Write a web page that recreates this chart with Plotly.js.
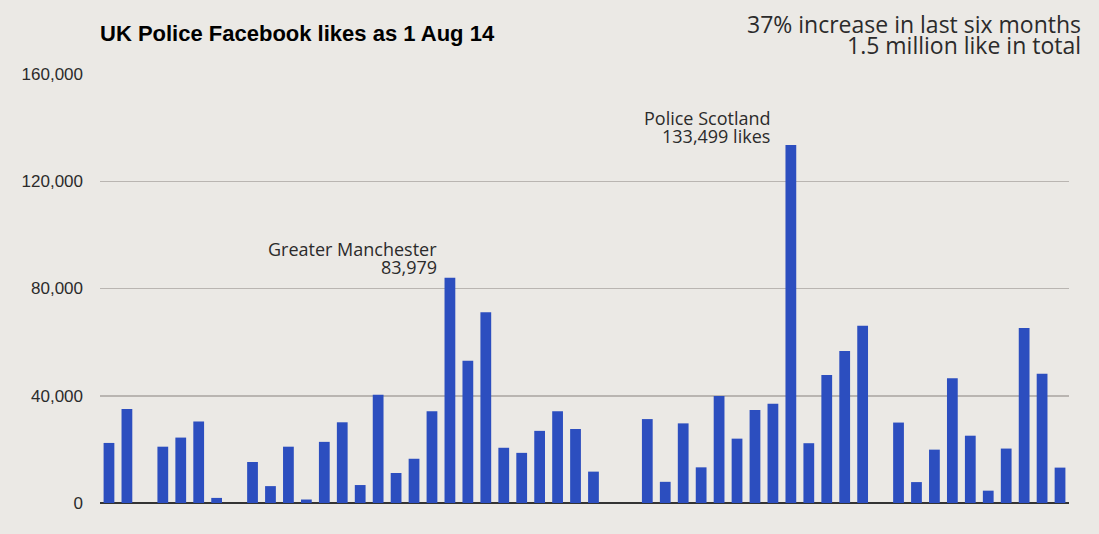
<!DOCTYPE html>
<html>
<head>
<meta charset="utf-8">
<script src="https://cdn.plot.ly/plotly-3.0.1.min.js"></script>
<style>
  html, body { margin: 0; padding: 0; background: #ebe9e5; }
  #myChart { width: 1099px; height: 534px; }
</style>
</head>
<body>
<div id="myChart"></div>
<script>
// UK police forces, one slot each (empty slots = gaps in the chart)
const slots = [
  "1","2","3","4","5","6","7","8","9","10",
  "11","12","13","14","15","16","17","18","19","20",
  "21","22","23","24","25","26","27","28","29","30",
  "31","32","33","34","35","36","37","38","39","40",
  "41","42","43","44","45","46","47","48","49","50",
  "51","52","53","54"
];

// Facebook likes per force, 1 Aug 2014
const likes = [
  22400, 35100, null, 21000, 24400, 30400, 1900, null, 15300, 6300,
  21000, 1300, 22800, 30100, 6700, 40400, 11200, 16500, 34200, 83979,
  53100, 71100, 20600, 18700, 26900, 34200, 27600, 11700, null, null,
  31300, 7900, 29700, 13300, 39900, 24000, 34700, 37000, 133499, 22300,
  47700, 56700, 66100, null, 30000, 7800, 19900, 46500, 25100, 4600,
  20300, 65300, 48200, 13200
];

const yTicks = [0, 40000, 80000, 120000, 160000];
const yTickText = ["0", "40,000", "80,000", "120,000", "160,000"];

// index of the labelled bars in slots
const gmIdx = 19, scotIdx = 38;

var trace = {
  x: slots,
  y: likes,
  type: "bar",
  marker: { color: "#2c4ebf" },
  hoverinfo: "y"
};

var noteFont = { family: "Open Sans", size: 18, color: "#2b2b2b" };
var headFont = { family: "Open Sans", size: 23, color: "#2b2b2b" };

function note(idx, val, txt, xs, ys) {
  return {
    xref: "x", yref: "y", x: idx, y: val,
    xanchor: "right", yanchor: "middle", xshift: xs, yshift: ys,
    showarrow: false, text: txt, font: noteFont
  };
}

var layout = {
  width: 1099,
  height: 534,
  paper_bgcolor: "#ebe9e5",
  plot_bgcolor: "#ebe9e5",
  margin: { l: 100, r: 30, t: 74, b: 31 },
  showlegend: false,
  bargap: 0.4,
  title: {
    text: "<b>UK Police Facebook likes as 1 Aug 14</b>",
    font: { family: "Liberation Sans", size: 22, color: "#000" },
    xref: "container",
    yref: "container",
    x: 100 / 1099,
    xanchor: "left",
    y: 1 - 33 / 534,
    yanchor: "middle"
  },
  xaxis: {
    type: "category",
    showticklabels: false,
    showgrid: false,
    zeroline: false,
    ticks: ""
  },
  yaxis: {
    range: [0, 160000],
    tickvals: yTicks,
    ticktext: yTickText,
    tickfont: { family: "Liberation Sans", size: 17, color: "#2b2b2b" },
    ticklabelstandoff: 16,
    gridcolor: "#b9b5b1",
    gridwidth: 1.5,
    zeroline: true,
    zerolinecolor: "#333",
    zerolinewidth: 1.5,
    fixedrange: true
  },
  annotations: [
    note(gmIdx, likes[gmIdx], "Greater Manchester", -11, 28.4),
    note(gmIdx, likes[gmIdx], "83,979", -11, 10.9),
    note(scotIdx, likes[scotIdx], "Police Scotland", -18.5, 27),
    note(scotIdx, likes[scotIdx], "133,499 likes", -18.5, 9.5),
    {
      xref: "paper", yref: "paper", x: 1 + 14 / 969, y: 1 + 50 / 429,
      xanchor: "right", yanchor: "middle", showarrow: false,
      text: "37% increase in last six months",
      font: headFont
    },
    {
      xref: "paper", yref: "paper", x: 1 + 14 / 969, y: 1 + 28.6 / 429,
      xanchor: "right", yanchor: "middle", showarrow: false,
      text: "1.5 million like in total",
      font: headFont
    }
  ]
};

Plotly.newPlot("myChart", [trace], layout, { displayModeBar: false, staticPlot: true });
</script>
</body>
</html>
